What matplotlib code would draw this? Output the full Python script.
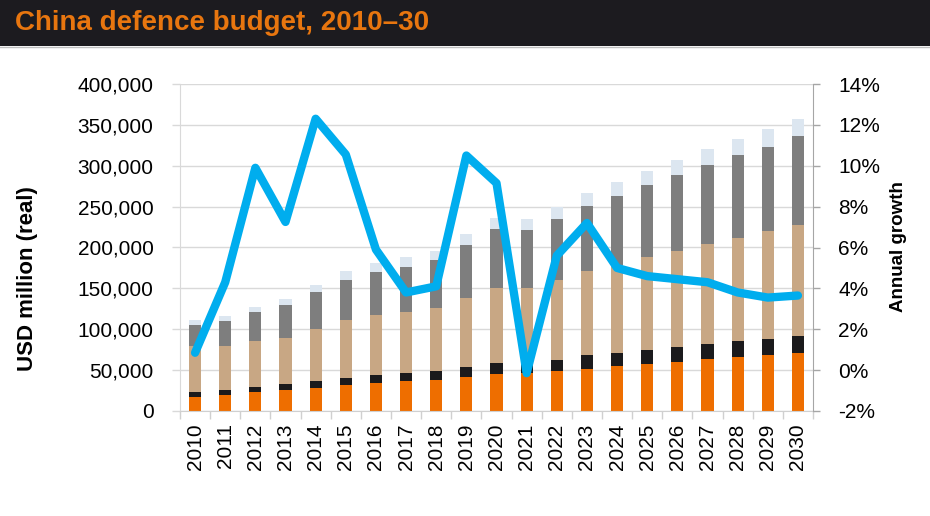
import matplotlib
matplotlib.use("Agg")
import matplotlib.pyplot as plt
from matplotlib.patches import Rectangle
from matplotlib.lines import Line2D
from matplotlib.ticker import FuncFormatter, MultipleLocator, FixedLocator

plt.rcParams['font.family'] = ['Liberation Sans', 'DejaVu Sans']

years = [str(y) for y in range(2010, 2031)]

# stacked segments, USD million (real)
seg_orange = [17100, 20000, 22900, 25300, 28600, 32300, 34800, 36400, 37600, 41600, 45300,
              46000, 48600, 51900, 55100, 57200, 60000, 63300, 66100, 68200, 71000]
seg_black = [5800, 5300, 6500, 7400, 8100, 8600, 9800, 10100, 11000, 12300, 13500,
             13500, 14300, 16300, 15900, 18000, 18300, 18300, 19200, 20400, 20800]
seg_tan = [56300, 54700, 56300, 56700, 64200, 70100, 72500, 74300, 77500, 84900, 92200,
           91500, 97100, 102800, 108200, 112600, 117200, 122800, 126500, 131000, 135500]
seg_grey = [26500, 30200, 35500, 40000, 44400, 49800, 53000, 55500, 58000, 64400, 71400,
            70200, 74300, 79600, 84000, 88100, 92600, 96000, 100800, 103500, 108600]
seg_light = [6200, 5700, 6100, 7300, 8600, 10200, 11100, 11500, 11400, 13100, 13100,
             13800, 14700, 16200, 16700, 17500, 18800, 19900, 19600, 21300, 20800]

# annual growth, %
growth = [0.85, 4.3, 9.9, 7.25, 12.3, 10.55, 5.9, 3.8, 4.1, 10.5, 9.15,
          -0.15, 5.6, 7.2, 5.0, 4.6, 4.45, 4.3, 3.8, 3.55, 3.65]

colors = ['#EE6E00', '#1B1A1C', '#C8A784', '#7E7E7E', '#DCE6F0']
segments = [seg_orange, seg_black, seg_tan, seg_grey, seg_light]

fig = plt.figure(figsize=(9.3, 5.16), dpi=100)

# title bar
fig.patches.append(Rectangle((0, 1 - 46 / 516), 1, 46 / 516, transform=fig.transFigure,
                             facecolor='#1C1B1F', edgecolor='none', zorder=0))
fig.lines.append(Line2D([0, 1], [1 - 47 / 516, 1 - 47 / 516], transform=fig.transFigure,
                        color='#BFBFBF', lw=1))
fig.text(15 / 930, 1 - 23 / 516, 'China defence budget, 2010\u201330', color='#E8760F',
         fontsize=20, fontweight='bold', va='center', ha='left')

ax = fig.add_axes([180 / 930, 1 - 411 / 516, 633 / 930, 327 / 516])
x = list(range(len(years)))
bottom = [0] * len(years)
for seg, c in zip(segments, colors):
    ax.bar(x, seg, width=0.4, bottom=bottom, color=c, edgecolor='none', zorder=2)
    bottom = [b + s for b, s in zip(bottom, seg)]

ax.set_xlim(-0.5, len(years) - 0.5)
ax.set_ylim(0, 400000)
ax.yaxis.set_major_locator(MultipleLocator(50000))
ax.yaxis.set_major_formatter(FuncFormatter(lambda v, p: f'{int(v):,}'))
ax.grid(axis='y', color='#D9D9D9', lw=1, zorder=0)
ax.set_axisbelow(True)
ax.set_xticks(x)
ax.set_xticklabels(years, rotation=90, fontsize=15)
ax.xaxis.set_minor_locator(FixedLocator([i - 0.5 for i in range(len(years) + 1)]))
ax.tick_params(axis='x', which='major', length=0, pad=9)
ax.tick_params(axis='x', which='minor', length=6, color='#D0D0D0', width=1)
ax.tick_params(axis='y', length=6, color='#D9D9D9', width=1, labelsize=15, pad=13)
for s in ['top', 'right']:
    ax.spines[s].set_visible(False)
ax.spines['left'].set_color('#D9D9D9')
ax.spines['bottom'].set_color('#D0D0D0')

ax2 = ax.twinx()
ax2.plot(x, growth, color='#00ADEE', lw=6, solid_joinstyle='round', solid_capstyle='round',
         zorder=5)
ax2.set_ylim(-2, 14)
ax2.yaxis.set_major_locator(MultipleLocator(2))
ax2.yaxis.set_major_formatter(FuncFormatter(lambda v, p: f'{v:.0f}%'))
ax2.tick_params(axis='y', length=5, color='#A6A6A6', width=1, labelsize=15, pad=13)
for s in ['top', 'left', 'bottom']:
    ax2.spines[s].set_visible(False)
ax2.spines['right'].set_color('#A6A6A6')

fig.text(27 / 930, 1 - 279 / 516, 'USD million (real)', rotation=90, fontsize=16,
         fontweight='bold', va='center', ha='center')
fig.text(898 / 930, 1 - 247 / 516, 'Annual growth', rotation=90, fontsize=13.5,
         fontweight='bold', va='center', ha='center')

fig.savefig('out.png', dpi=100, facecolor='white')
